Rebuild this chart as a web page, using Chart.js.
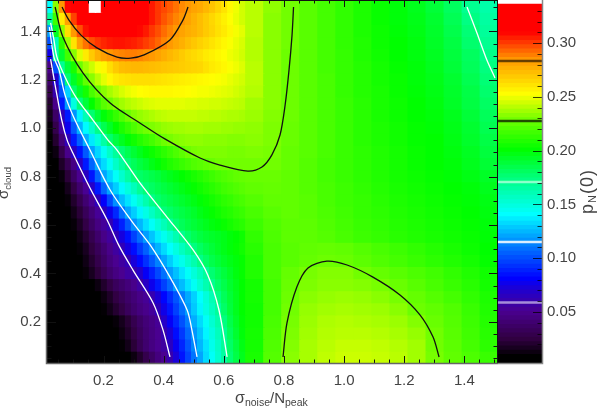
<!DOCTYPE html>
<html>
<head>
<meta charset="utf-8">
<style>
  body { margin: 0; background: #fff; }
  canvas { position: absolute; top: 0; }
</style>
<script src="https://cdn.jsdelivr.net/npm/chart.js@4"></script>
</head>
<body>
<canvas id="mapa" width="598" height="408" style="left:0"></canvas>
<canvas id="barra" width="100" height="408" style="left:498px"></canvas>
<script>
// column edges (sigma_noise / N_peak), fine where the field is steep
const noiseEdges = [0.012,0.032,0.052,0.072,0.092,0.112,0.132,0.152,0.172,0.192,0.212,0.232,0.252,0.272,0.292,0.312,0.332,0.352,0.372,0.392,0.412,0.432,0.452,0.472,0.492,0.512,0.532,0.552,0.572,0.592,0.612,0.632,0.652,0.672,0.732,0.792,0.852,0.912,0.972,1.032,1.092,1.152,1.212,1.272,1.332,1.392,1.452,1.512];
const cloudRows = [1.505,1.455,1.405,1.355,1.305,1.255,1.205,1.155,1.105,1.055,1.005,0.955,0.905,0.855,0.805,0.755,0.705,0.655,0.605,0.555,0.505,0.455,0.405,0.355,0.305,0.255,0.205,0.155,0.105,0.055];

// pN(0) in thousandths, one list per row, top row first
const row00 = [140,232,283,308,318,325,330,340,340,332,330,328,325,322,320,316,310,305,300,297,294,290,286,283,280,278,274,270,265,260,254,249,244,240,233,228,222,217,212,207,202,198,194,188,180,169,163];
const row01 = [165,215,258,280,298,310,318,322,325,326,326,325,323,321,318,315,310,305,300,295,291,287,284,280,276,272,268,264,260,256,252,248,244,240,232,228,222,217,212,207,202,198,195,190,182,172,165];
const row02 = [118,192,232,262,283,296,306,312,316,318,318,318,316,314,311,308,305,300,296,291,287,283,280,277,275,272,268,265,261,258,254,250,247,240,232,228,222,217,212,207,203,199,196,191,184,175,167];
const row03 = [100,160,210,236,260,281,290,296,300,303,305,306,306,305,304,302,299,296,292,287,283,279,276,272,269,266,263,260,257,254,251,248,245,239,232,228,222,217,212,208,203,200,197,192,186,177,169];
const row04 = [75,165,190,216,232,246,258,268,276,281,284,286,287,288,288,287,285,283,280,277,274,271,268,265,263,261,258,256,254,252,249,247,244,239,232,227,222,217,213,208,204,200,197,193,187,180,171];
const row05 = [48,100,168,188,206,227,236,243,250,254,262,268,272,273,274,274,273,272,271,270,269,268,267,266,265,264,261,258,256,254,251,249,246,240,232,227,222,217,213,209,205,201,198,194,188,181,173];
const row06 = [38,70,110,176,192,208,224,232,240,247,254,258,260,261,262,262,262,262,261,260,259,258,257,256,255,254,253,252,251,250,248,246,244,240,232,227,222,218,213,209,205,202,198,195,190,183,175];
const row07 = [28,59,100,130,178,192,205,218,226,232,237,241,245,248,250,252,253,254,254,254,254,253,253,252,251,250,250,249,248,247,246,244,242,239,232,227,222,218,213,209,206,202,199,196,191,185,177];
const row08 = [20,48,86,118,148,174,188,200,212,222,227,232,236,239,241,243,245,246,247,247,247,247,247,246,246,245,245,244,244,243,242,241,240,236,232,227,222,218,214,210,206,203,200,197,192,186,179];
const row09 = [15,36,62,86,116,137,160,176,188,198,206,213,220,227,231,234,236,238,240,241,242,242,242,242,242,241,241,240,240,239,238,238,237,235,231,227,222,218,214,210,206,203,200,198,194,188,181];
const row10 = [10,28,53,76,102,123,139,155,171,183,192,200,207,213,219,224,228,230,232,234,235,236,236,237,237,237,236,236,236,235,235,234,234,233,230,226,222,218,214,210,207,204,201,199,195,190,183];
const row11 = [7,20,42,62,86,104,122,135,149,164,177,186,193,199,204,209,213,217,222,227,229,231,232,233,233,233,232,232,232,232,231,231,231,232,230,226,222,218,214,210,207,204,201,200,196,191,185];
const row12 = [4,12,28,48,65,84,102,119,131,143,155,167,176,183,189,194,199,203,207,211,215,219,223,227,229,230,230,230,230,230,229,229,229,230,229,225,222,218,214,211,208,205,202,200,197,193,187];
const row13 = [3,8,18,30,46,66,86,105,121,132,143,155,166,175,181,186,190,195,199,204,208,211,214,217,220,222,224,226,228,228,228,228,228,228,228,225,221,217,214,211,208,205,202,200,198,194,189];
const row14 = [2,5,11,22,36,50,65,85,105,120,131,142,153,164,174,178,181,184,187,191,194,197,200,203,206,209,212,215,218,220,222,224,225,226,226,224,221,217,214,211,208,205,203,201,199,196,192];
const row15 = [2,3,7,15,26,39,51,67,86,105,120,129,139,149,158,168,175,179,183,186,189,192,195,198,201,204,207,210,213,216,218,220,222,224,225,224,221,218,215,212,209,206,204,202,200,198,194];
const row16 = [1,2,5,10,19,29,40,51,64,79,98,115,125,134,143,152,162,171,177,181,184,187,190,193,196,199,202,205,208,211,213,216,218,221,224,224,222,218,215,213,210,207,205,203,201,199,196];
const row17 = [1,2,3,7,14,22,32,42,52,64,76,90,107,120,129,138,147,156,165,174,178,182,185,188,191,195,198,201,204,207,209,212,214,218,222,224,222,219,216,213,211,208,206,204,202,200,197];
const row18 = [1,1,2,5,10,17,26,36,45,53,61,75,88,102,115,124,133,142,151,159,168,176,181,185,188,191,194,197,199,202,205,208,210,215,220,223,223,220,217,214,212,209,207,205,203,201,198];
const row19 = [1,1,2,4,7,13,20,29,38,47,54,62,73,84,96,107,118,127,136,144,152,161,170,177,182,186,189,191,193,195,198,200,203,212,219,223,223,221,218,215,213,210,208,206,204,202,199];
const row20 = [1,1,1,3,5,10,16,24,32,40,48,55,62,73,83,94,104,115,123,132,140,148,157,165,173,179,184,188,192,195,198,201,204,210,218,222,224,225,224,221,218,215,212,209,206,203,200];
const row21 = [1,1,1,2,4,8,13,20,28,36,44,50,55,61,72,82,92,102,112,120,129,137,145,154,162,171,178,184,188,192,195,198,201,208,218,222,225,227,226,223,220,217,214,211,208,205,201];
const row22 = [1,1,1,2,3,6,10,16,23,31,39,45,50,55,59,68,78,88,98,108,118,126,134,142,150,158,167,176,182,187,192,197,201,208,218,225,229,231,231,228,225,222,219,216,212,208,204];
const row23 = [1,1,1,1,1,2,4,7,12,19,26,33,38,43,48,55,66,76,86,96,106,118,125,134,143,152,161,170,178,184,190,195,200,205,217,226,230,232,232,231,229,226,222,218,214,210,205];
const row24 = [1,1,1,1,1,2,3,5,7,12,18,25,31,37,42,47,52,60,71,81,91,101,111,121,130,140,150,160,172,181,188,194,200,205,217,227,232,234,235,234,232,229,225,221,217,212,207];
const row25 = [1,1,1,1,1,1,2,3,5,9,14,20,26,33,39,44,48,53,63,75,85,96,107,118,128,138,148,157,167,178,187,194,200,204,217,228,234,236,237,236,235,232,227,224,220,214,208];
const row26 = [1,1,1,1,1,1,1,2,3,4,6,10,15,21,29,36,42,46,52,67,78,89,100,111,122,132,142,152,162,173,184,192,199,204,218,229,235,238,239,238,237,235,231,226,221,215,209];
const row27 = [1,1,1,1,1,1,1,1,2,3,4,7,12,18,25,33,40,45,50,60,71,83,94,106,117,127,138,148,158,169,181,190,198,205,219,230,236,239,240,240,239,237,234,228,222,216,210];
const row28 = [1,1,1,1,1,1,1,1,1,2,3,5,9,14,22,31,39,45,50,55,65,77,89,101,113,124,134,145,155,167,178,187,196,205,220,231,237,240,242,242,241,239,236,228,223,217,211];
const row29 = [1,1,1,1,1,1,1,1,1,1,2,3,4,7,12,19,28,36,44,50,59,72,85,97,109,120,132,142,153,165,176,185,194,206,221,232,237,241,243,243,242,240,236,229,224,219,214];
const pN0Rows = [row00,row01,row02,row03,row04,row05,row06,row07,row08,row09,row10,row11,row12,row13,row14,row15,row16,row17,row18,row19,row20,row21,row22,row23,row24,row25,row26,row27,row28,row29];

// contour lines, [noise, cloud]
const lineLow = [[0.024,1.286],[0.042,1.158],[0.061,1.034],[0.079,0.951],[0.098,0.898],[0.155,0.753],[0.212,0.621],[0.250,0.518],[0.298,0.414],[0.365,0.278],[0.398,0.166],[0.421,0.055]];
const lineMid = [[0.020,1.418],[0.035,1.294],[0.052,1.241],[0.072,1.137],[0.105,1.034],[0.155,0.910],[0.222,0.745],[0.298,0.609],[0.355,0.518],[0.421,0.385],[0.478,0.249],[0.494,0.166],[0.511,0.055]];
const lineHigh = [[0.024,1.435],[0.035,1.365],[0.045,1.294],[0.072,1.212],[0.108,1.129],[0.165,1.034],[0.215,0.951],[0.245,0.910],[0.321,0.774],[0.411,0.633],[0.498,0.497],[0.547,0.393],[0.584,0.249],[0.611,0.055]];
const lineCorner = [[1.409,1.501],[1.442,1.394],[1.475,1.282],[1.502,1.208]];
const lineSaddle = [[0.039,1.501],[0.065,1.377],[0.132,1.228],[0.222,1.104],[0.321,1.022],[0.404,0.956],[0.521,0.877],[0.587,0.848],[0.680,0.823],[0.727,0.840],[0.760,0.890],[0.787,0.972],[0.804,1.096],[0.817,1.241],[0.827,1.385],[0.832,1.501]];
const lineDome = [[0.797,0.055],[0.810,0.195],[0.843,0.344],[0.880,0.423],[0.943,0.451],[1.010,0.435],[1.096,0.385],[1.186,0.311],[1.253,0.228],[1.296,0.137],[1.316,0.055]];
const linePeak = [[0.062,1.501],[0.085,1.447],[0.125,1.385],[0.178,1.332],[0.245,1.294],[0.291,1.290],[0.335,1.303],[0.421,1.365],[0.464,1.447],[0.481,1.501]];

// ticks
const xMajor = [0.2,0.4,0.6,0.8,1.0,1.2,1.4];
const xMinor = [0.05,0.1,0.15,0.25,0.3,0.35,0.45,0.5,0.55,0.65,0.7,0.75,0.85,0.9,0.95,1.05,1.1,1.15,1.25,1.3,1.35,1.45,1.5];
const yMajor = [0.2,0.4,0.6,0.8,1.0,1.2,1.4];
const yMinor = [0.05,0.1,0.15,0.25,0.3,0.35,0.45,0.5,0.55,0.65,0.7,0.75,0.85,0.9,0.95,1.05,1.1,1.15,1.25,1.3,1.35,1.45,1.5];
const barMajor = [0.05,0.10,0.15,0.20,0.25,0.30];
const barMinor = [0.01,0.02,0.03,0.04,0.06,0.07,0.08,0.09,0.11,0.12,0.13,0.14,0.16,0.17,0.18,0.19,0.21,0.22,0.23,0.24,0.26,0.27,0.28,0.29,0.31,0.32,0.33];

// colour bar bands and the contour levels marked on it
const barLevels = [0.002,0.006,0.010,0.014,0.018,0.022,0.026,0.030,0.034,0.038,0.042,0.046,0.050,0.054,0.058,0.062,0.066,0.070,0.074,0.078,0.082,0.086,0.090,0.094,0.098,0.102,0.106,0.110,0.114,0.118,0.122,0.126,0.130,0.134,0.138,0.142,0.146,0.150,0.154,0.158,0.162,0.166,0.170,0.174,0.178,0.182,0.186,0.190,0.194,0.198,0.202,0.206,0.210,0.214,0.218,0.222,0.226,0.230,0.234,0.238,0.242,0.246,0.250,0.254,0.258,0.262,0.266,0.270,0.274,0.278,0.282,0.286,0.290,0.294,0.298,0.302,0.306,0.310,0.314,0.318,0.322,0.326,0.330,0.3355,0.34];
const contourLevels = [0.0588,0.115,0.1708,0.2275,0.2833];
const contourColors = ['rgba(255,255,255,0.55)','rgba(255,255,255,0.85)','rgba(255,255,255,0.55)','rgba(0,0,0,0.7)','rgba(0,0,0,0.6)'];

// value -> colour, same stops as the bar
const stops = [[0,0,0,0],[0.008,0,0,0],[0.024,48,0,64],[0.05,74,0,144],[0.0705,30,0,210],[0.08,0,0,255],[0.1076,0,110,255],[0.14,0,255,255],[0.168,0,255,150],[0.2,0,255,0],[0.2275,110,255,0],[0.2517,255,255,0],[0.284,255,150,0],[0.309,255,0,0],[0.337,255,0,0]];
function colorFor(v) {
  if (v >= 0.3375) return '#ffffff';
  for (let i = 1; i < stops.length; i++) {
    if (v <= stops[i][0]) {
      const a = stops[i - 1], b = stops[i];
      const t = (v - a[0]) / (b[0] - a[0]);
      return 'rgb(' + [1, 2, 3].map(k => Math.round(a[k] + (b[k] - a[k]) * t)).join(',') + ')';
    }
  }
  return '#ff0000';
}

const tickFont = { family: '"Liberation Sans"', size: 15 };
const textColor = '#444';

function contour(points, color) {
  return {
    type: 'scatter',
    data: points.map(p => ({ x: p[0], y: p[1] })),
    showLine: true,
    borderColor: color,
    borderWidth: 1.3,
    tension: 0.3,
    pointRadius: 0
  };
}

// one dataset per row of cells; bars overlap a little so no seams show
const cellSets = pN0Rows.map((row, r) => ({
  type: 'bar',
  indexAxis: 'y',
  grouped: false,
  barThickness: 13,
  data: row.map((v, c) => ({ x: [noiseEdges[c], noiseEdges[c + 1] + 0.003], y: cloudRows[r] })),
  backgroundColor: row.map(v => colorFor(v / 1000))
}));

function subText(ctx, parts) {
  // draws [text, size, drop] pieces one after the other from the current origin
  let x = 0;
  ctx.fillStyle = textColor;
  ctx.textAlign = 'left';
  ctx.textBaseline = 'alphabetic';
  parts.forEach(p => {
    ctx.font = p[1] + 'px "Liberation Sans"';
    ctx.fillText(p[0], x, p[2]);
    x += ctx.measureText(p[0]).width;
  });
}

// keep the plot flush with the canvas edge, labels may hang over
function noPadding(s) {
  s.paddingTop = 0; s.paddingBottom = 0; s.paddingLeft = 0; s.paddingRight = 0;
}

const mapaExtras = {
  id: 'mapaExtras',
  afterDraw(chart) {
    const { ctx, chartArea: a, scales: { x, y } } = chart;
    ctx.save();
    ctx.strokeStyle = '#111';
    ctx.lineWidth = 1;
    ctx.beginPath();
    const tickX = (v, len) => {
      const p = Math.round(x.getPixelForValue(v)) + 0.5;
      ctx.moveTo(p, a.bottom); ctx.lineTo(p, a.bottom - len);
      ctx.moveTo(p, a.top); ctx.lineTo(p, a.top + len);
    };
    const tickY = (v, len) => {
      const p = Math.round(y.getPixelForValue(v)) + 0.5;
      ctx.moveTo(a.left, p); ctx.lineTo(a.left + len, p);
      ctx.moveTo(a.right, p); ctx.lineTo(a.right - len, p);
    };
    xMajor.forEach(v => tickX(v, 7));
    xMinor.forEach(v => tickX(v, 3.5));
    yMajor.forEach(v => tickY(v, 9));
    yMinor.forEach(v => tickY(v, 4.5));
    ctx.moveTo(a.left, 0.5); ctx.lineTo(a.right, 0.5);
    ctx.moveTo(a.right - 0.5, a.top); ctx.lineTo(a.right - 0.5, a.bottom);
    ctx.stroke();
    // axis lines
    ctx.strokeStyle = '#666';
    ctx.lineWidth = 1.5;
    ctx.beginPath();
    ctx.moveTo(a.left - 0.5, 0); ctx.lineTo(a.left - 0.5, a.bottom + 0.5);
    ctx.lineTo(a.right, a.bottom + 0.5);
    ctx.stroke();
    // axis titles with subscripts
    ctx.save();
    ctx.translate(235, 403);
    subText(ctx, [['\u03c3', 16, 0], ['noise', 10.5, 3], ['/N', 15, 0], ['peak', 10.5, 3]]);
    ctx.restore();
    ctx.save();
    ctx.translate(8, 199);
    ctx.rotate(-Math.PI / 2);
    subText(ctx, [['\u03c3', 15, 0], ['cloud', 9.5, 3]]);
    ctx.restore();
    ctx.restore();
  }
};

new Chart(document.getElementById('mapa'), {
  type: 'bar',
  data: {
    datasets: [
      contour(lineLow, '#fff'), contour(lineMid, '#fff'), contour(lineHigh, '#fff'), contour(lineCorner, '#fff'),
      contour(lineSaddle, '#111'), contour(lineDome, '#111'), contour(linePeak, '#111')
    ].concat(cellSets)
  },
  options: {
    responsive: false,
    animation: false,
    layout: { autoPadding: false, padding: { left: 0, right: 100, top: 0, bottom: 0 } },
    plugins: { legend: { display: false }, tooltip: { enabled: false }, title: { display: false } },
    scales: {
      x: {
        type: 'linear', min: 0.012, max: 1.512, offset: false,
        grid: { display: false, drawTicks: false }, border: { display: false },
        afterBuildTicks: s => { s.ticks = xMajor.map(v => ({ value: v })); },
        afterFit: s => { s.height = 45; noPadding(s); },
        ticks: { autoSkip: false, maxRotation: 0, padding: 9, color: textColor, font: tickFont, callback: v => v.toFixed(1) }
      },
      y: {
        type: 'linear', min: 0.03, max: 1.53, offset: false,
        grid: { display: false, drawTicks: false }, border: { display: false },
        afterBuildTicks: s => { s.ticks = yMajor.map(v => ({ value: v })); },
        afterFit: s => { s.width = 47; noPadding(s); },
        ticks: { autoSkip: false, padding: 6, color: textColor, font: tickFont, callback: v => v.toFixed(1) }
      }
    }
  },
  plugins: [mapaExtras]
});

// colour bar
const bandSets = barLevels.slice(0, -1).map((lo, i) => {
  const hi = barLevels[i + 1];
  return { data: [[lo, hi + 0.0006]], backgroundColor: colorFor((lo + hi) / 2), barPercentage: 1, categoryPercentage: 1, grouped: false };
});
const markSets = contourLevels.map((lv, i) => ({
  data: [[lv - 0.0009, lv + 0.0009]], backgroundColor: contourColors[i], barPercentage: 1, categoryPercentage: 1, grouped: false
}));

const barraExtras = {
  id: 'barraExtras',
  afterDraw(chart) {
    const { ctx, chartArea: a, scales: { y } } = chart;
    ctx.save();
    ctx.strokeStyle = 'rgba(0,0,0,0.75)';
    ctx.lineWidth = 1;
    ctx.beginPath();
    const tick = (v, len) => {
      const p = Math.round(y.getPixelForValue(v)) + 0.5;
      ctx.moveTo(a.right, p); ctx.lineTo(a.right - len, p);
    };
    barMajor.forEach(v => tick(v, 9));
    barMinor.forEach(v => tick(v, 4.5));
    ctx.stroke();
    ctx.strokeStyle = '#888';
    ctx.lineWidth = 1.5;
    ctx.beginPath();
    ctx.moveTo(a.left, a.bottom + 0.5); ctx.lineTo(a.right + 0.5, a.bottom + 0.5); ctx.lineTo(a.right + 0.5, 0);
    ctx.stroke();
    ctx.save();
    ctx.translate(95, 214);
    ctx.rotate(-Math.PI / 2);
    ctx.letterSpacing = '1px';
    subText(ctx, [['p', 18, 0], ['N', 11, 3], ['(0)', 18, 0]]);
    ctx.restore();
    ctx.restore();
  }
};

new Chart(document.getElementById('barra'), {
  type: 'bar',
  data: { labels: [''], datasets: markSets.concat(bandSets) },
  options: {
    responsive: false,
    animation: false,
    layout: { autoPadding: false, padding: { left: 0, right: 0, top: 0, bottom: 45 } },
    plugins: { legend: { display: false }, tooltip: { enabled: false } },
    scales: {
      x: { display: false },
      y: {
        type: 'linear', position: 'right', min: 0.0026, max: 0.34,
        grid: { display: false, drawTicks: false }, border: { display: false },
        afterBuildTicks: s => { s.ticks = barMajor.map(v => ({ value: v })); },
        afterFit: s => { s.width = 56; noPadding(s); },
        ticks: { autoSkip: false, padding: 5, color: textColor, font: tickFont, callback: v => v.toFixed(2) }
      }
    }
  },
  plugins: [barraExtras]
});
</script>
</body>
</html>
